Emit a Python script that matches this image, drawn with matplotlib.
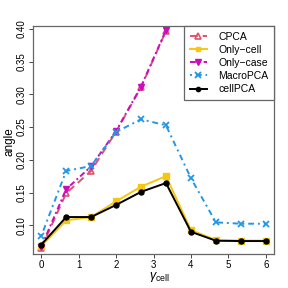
import matplotlib
matplotlib.use("Agg")
import matplotlib.pyplot as plt

plt.rcParams['font.family'] = ['Liberation Sans', 'DejaVu Sans']
plt.rcParams['mathtext.fontset'] = 'custom'
plt.rcParams['mathtext.rm'] = 'Liberation Sans'
plt.rcParams['mathtext.it'] = 'Liberation Sans:italic'

gamma = [0, 0.667, 1.333, 2, 2.667, 3.333, 4, 4.667, 5.333, 6]
gamma_short = gamma[:6]

cpca = [0.065, 0.149, 0.183, 0.243, 0.311, 0.397]
only_case = [0.067, 0.155, 0.190, 0.244, 0.312, 0.398]
only_cell = [0.068, 0.1075, 0.1125, 0.1365, 0.159, 0.175, 0.0927, 0.0772, 0.0765, 0.0765]
macropca = [0.0835, 0.183, 0.1905, 0.2425, 0.262, 0.2527, 0.172, 0.1044, 0.1023, 0.1023]
cellpca = [0.0702, 0.1125, 0.1125, 0.131, 0.151, 0.1645, 0.090, 0.0763, 0.0758, 0.0758]

fig = plt.figure(figsize=(2.88, 2.88), dpi=100)
ax = fig.add_axes([33 / 288, 34 / 288, 241 / 288, 228 / 288])

ax.plot(gamma_short, cpca, color='#DF536B', ls=(0, (4, 2.5)), lw=1.4,
        marker='^', mfc='none', mec='#DF536B', ms=5, mew=1.2, label='CPCA')
ax.plot(gamma, only_cell, color='#F5C710', ls='-', lw=1.4,
        marker='s', ms=4.2, label='Only\u2212cell')
ax.plot(gamma_short, only_case, color='#CD0BBC', ls=(0, (3, 1.5, 1, 1.5)), lw=1.4,
        marker='v', ms=5, label='Only\u2212case')
ax.plot(gamma, macropca, color='#2297E6', ls=(0, (1, 2, 3, 2)), lw=1.4,
        marker='x', ms=4.5, mew=1.3, label='MacroPCA')
ax.plot(gamma, cellpca, color='black', ls='-', lw=1.4,
        marker='o', ms=3.6, label='cellPCA')

ax.set_xlim(-0.22, 6.22)
ax.set_ylim(0.056, 0.4046)
ax.set_xticks(range(7))
ax.set_yticks([0.10, 0.15, 0.20, 0.25, 0.30, 0.35, 0.40])
ax.set_yticklabels(['0.10', '0.15', '0.20', '0.25', '0.30', '0.35', '0.40'],
                   rotation=90, va='center')
ax.tick_params(labelsize=7, length=3, width=0.7, color='#444444', pad=1.5)

for s in ax.spines.values():
    s.set_color('#666666')
    s.set_linewidth(0.9)

fig.text(9 / 288, 1 - 142 / 288, 'angle', rotation=90, fontsize=8.5,
         ha='center', va='center')
fig.text(159 / 288, 1 - 277 / 288, r'$\gamma_{\mathrm{cell}}$', fontsize=9,
         ha='center', va='center')

leg = ax.legend(loc='upper right', borderaxespad=0, fancybox=False,
                edgecolor='#666666', framealpha=1, fontsize=7.5,
                handlelength=1.6, handletextpad=1.1, labelspacing=0.3,
                borderpad=0.55, markerscale=0.85)
leg.get_frame().set_linewidth(0.9)

fig.savefig('out.png', dpi=100)
